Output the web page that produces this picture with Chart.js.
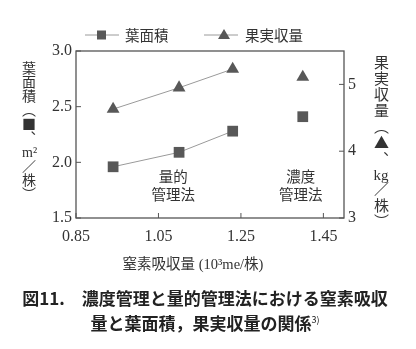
<!DOCTYPE html>
<html lang="ja">
<head>
<meta charset="utf-8">
<script src="https://cdn.jsdelivr.net/npm/chart.js@4"></script>
<style>
  html, body { margin: 0; padding: 0; background: #fff; }
  #wrap { position: relative; width: 416px; height: 349px; overflow: hidden; }
  #chart { position: absolute; left: 0; top: 0; }
  .vtitle {
    position: absolute;
    writing-mode: vertical-rl;
    font-family: 'Noto Sans CJK JP', sans-serif;
    color: #333;
    line-height: 1;
    white-space: nowrap;
  }
  .tcy { text-combine-upright: all; font-family: 'Liberation Serif', serif; }
  #caption {
    position: absolute;
    left: 0;
    top: 287px;
    width: 410px;
    text-align: center;
    font-family: 'Noto Sans CJK JP', sans-serif;
    font-weight: bold;
    font-size: 17px;
    line-height: 22px;
    color: #222;
  }
  #caption sup { font-size: 9px; vertical-align: 7px; font-weight: normal; }
</style>
</head>
<body>
<div id="wrap">
  <canvas id="chart" width="416" height="349"></canvas>
  <div class="vtitle" style="left:22px; top:61px; font-size:14px;">葉面積（■、<span class="tcy">m²</span>／株）</div>
  <div class="vtitle" style="left:373px; top:55px; font-size:15px; letter-spacing:1px;">果実収量（▲、<span class="tcy">kg</span>／株）</div>
  <div id="caption">図11.&#12288;濃度管理と量的管理法における窒素吸収<br>量と葉面積，果実収量の関係<sup>3)</sup></div>
</div>
<script>
// 窒素吸収量に対する葉面積・果実収量
const nitrogen = [0.94, 1.10, 1.23, 1.40];
const leafArea = [1.96, 2.09, 2.28, 2.41];
const fruitYield = [4.63, 4.95, 5.23, 5.11];

const xTicks = [0.85, 1.05, 1.25, 1.45];
const leafTicks = [1.5, 2.0, 2.5, 3.0];
const yieldTicks = [3, 4, 5];

const seriesNames = ['葉面積', '果実収量'];
const xTitle = '窒素吸収量 (10³me/株)';
const groupLabels = [['量的', '管理法'], ['濃度', '管理法']];

const markColor = '#585858';
const lineColor = '#9a9a9a';
const axisColor = '#555';
const textColor = '#333';
const numFont = "'Liberation Serif', 'Noto Sans CJK JP', serif";
const jpFont = "'Noto Sans CJK JP', sans-serif";

// 最後の点（濃度管理法）は線で結ばない
const segmentColor = (c) => (c.p1DataIndex >= 3 ? 'rgba(0,0,0,0)' : lineColor);

const toPoints = (ys) => nitrogen.map((x, i) => ({ x: x, y: ys[i] }));

const decorations = {
  id: 'decorations',
  afterDraw(chart) {
    const ctx = chart.ctx;
    const area = chart.chartArea;
    const sx = chart.scales.x;
    const sl = chart.scales.y;
    const sr = chart.scales.y1;

    ctx.save();
    // 枠
    ctx.strokeStyle = axisColor;
    ctx.lineWidth = 1.3;
    ctx.strokeRect(area.left, area.top, area.right - area.left, area.bottom - area.top);

    // 内向きの目盛り
    ctx.lineWidth = 1;
    ctx.beginPath();
    xTicks.forEach((v) => {
      const px = sx.getPixelForValue(v);
      ctx.moveTo(px, area.bottom);
      ctx.lineTo(px, area.bottom - 5);
    });
    leafTicks.forEach((v) => {
      const py = sl.getPixelForValue(v);
      ctx.moveTo(area.left, py);
      ctx.lineTo(area.left + 5, py);
    });
    yieldTicks.forEach((v) => {
      const py = sr.getPixelForValue(v);
      ctx.moveTo(area.right, py);
      ctx.lineTo(area.right - 5, py);
    });
    ctx.stroke();

    // 凡例
    const ly = 35;
    ctx.strokeStyle = lineColor;
    ctx.beginPath();
    ctx.moveTo(85, ly); ctx.lineTo(119, ly);
    ctx.moveTo(204, ly); ctx.lineTo(238, ly);
    ctx.stroke();
    ctx.fillStyle = markColor;
    ctx.fillRect(97, ly - 4.5, 9, 9);
    ctx.beginPath();
    ctx.moveTo(224, ly - 6);
    ctx.lineTo(230, ly + 4);
    ctx.lineTo(218, ly + 4);
    ctx.closePath();
    ctx.fill();

    ctx.fillStyle = textColor;
    ctx.font = '14.5px ' + jpFont;
    ctx.textBaseline = 'middle';
    ctx.textAlign = 'left';
    ctx.fillText(seriesNames[0], 125, ly);
    ctx.fillText(seriesNames[1], 245, ly);

    // 管理法の注記
    ctx.textAlign = 'center';
    ctx.font = '14.5px ' + jpFont;
    const gx = [1.086, 1.395];
    groupLabels.forEach((lines, i) => {
      const px = sx.getPixelForValue(gx[i]);
      ctx.fillText(lines[0], px, 176);
      ctx.fillText(lines[1], px, 194);
    });

    // x 軸タイトル
    ctx.font = '14.5px ' + numFont;
    ctx.fillText(xTitle, 193, 265);
    ctx.restore();
  }
};

new Chart(document.getElementById('chart'), {
  type: 'line',
  data: {
    datasets: [
      {
        label: seriesNames[0],
        data: toPoints(leafArea),
        yAxisID: 'y',
        borderColor: lineColor,
        borderWidth: 1,
        pointStyle: 'rect',
        pointRadius: 7.6,
        pointBackgroundColor: markColor,
        pointBorderColor: markColor,
        pointBorderWidth: 0,
        segment: { borderColor: segmentColor },
      },
      {
        label: seriesNames[1],
        data: toPoints(fruitYield),
        yAxisID: 'y1',
        borderColor: lineColor,
        borderWidth: 1,
        pointStyle: 'triangle',
        pointRadius: 7.4,
        pointBackgroundColor: markColor,
        pointBorderColor: markColor,
        pointBorderWidth: 0,
        segment: { borderColor: segmentColor },
      },
    ],
  },
  options: {
    responsive: false,
    animation: false,
    devicePixelRatio: 1,
    layout: { padding: { top: 51, left: 0, right: 0, bottom: 0 } },
    plugins: {
      legend: { display: false },
      tooltip: { enabled: false },
    },
    scales: {
      x: {
        type: 'linear',
        min: 0.85,
        max: 1.5,
        afterBuildTicks: (s) => { s.ticks = xTicks.map((v) => ({ value: v })); },
        afterFit: (s) => { s.height = 349 - 218; },
        grid: { display: false, drawTicks: false },
        border: { display: false },
        ticks: {
          padding: 9,
          color: textColor,
          font: { family: numFont, size: 16 },
          callback: (v) => Number(v).toFixed(2),
        },
      },
      y: {
        position: 'left',
        min: 1.5,
        max: 3.0,
        afterBuildTicks: (s) => { s.ticks = leafTicks.map((v) => ({ value: v })); },
        afterFit: (s) => { s.width = 76; },
        grid: { display: false, drawTicks: false },
        border: { display: false },
        ticks: {
          padding: 4,
          color: textColor,
          font: { family: numFont, size: 16 },
          callback: (v) => Number(v).toFixed(1),
        },
      },
      y1: {
        position: 'right',
        min: 3,
        max: 5.5,
        afterBuildTicks: (s) => { s.ticks = yieldTicks.map((v) => ({ value: v })); },
        afterFit: (s) => { s.width = 416 - 344; },
        grid: { display: false, drawTicks: false },
        border: { display: false },
        ticks: {
          padding: 4,
          color: textColor,
          font: { family: numFont, size: 16 },
          callback: (v) => String(v),
        },
      },
    },
  },
  plugins: [decorations],
});
</script>
</body>
</html>
